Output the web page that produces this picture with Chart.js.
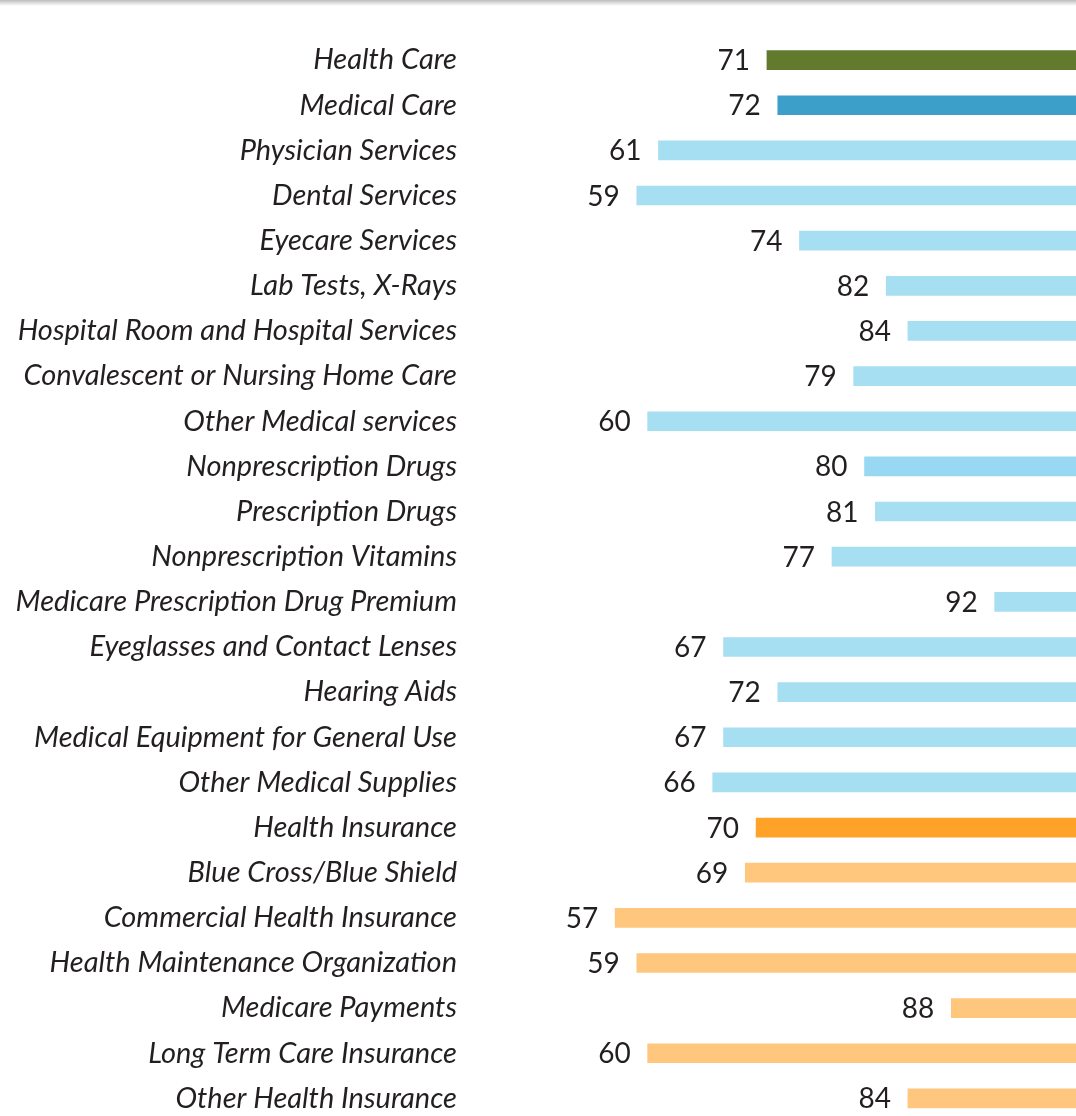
<!DOCTYPE html>
<html lang="en">
<head>
<meta charset="UTF-8">
<title>Health Care</title>
<script src="https://cdn.jsdelivr.net/npm/chart.js@4.4.3/dist/chart.umd.min.js"></script>
<style>
  html, body { margin: 0; padding: 0; background: #fff; overflow: hidden; }
  .topline { position: absolute; left: 0; top: 0; width: 1076px; height: 6px; background: linear-gradient(#bdbdbd, #fff); z-index: 2; }
  canvas { position: absolute; left: 0; top: 0; }
</style>
</head>
<body>
<div class="topline"></div>
<canvas id="chart" width="1076" height="1122"></canvas>
<script>
const categories = [
  'Health Care', 'Medical Care', 'Physician Services', 'Dental Services', 'Eyecare Services',
  'Lab Tests, X-Rays', 'Hospital Room and Hospital Services', 'Convalescent or Nursing Home Care',
  'Other Medical services', 'Nonprescription Drugs', 'Prescription Drugs', 'Nonprescription Vitamins',
  'Medicare Prescription Drug Premium', 'Eyeglasses and Contact Lenses', 'Hearing Aids',
  'Medical Equipment for General Use', 'Other Medical Supplies', 'Health Insurance',
  'Blue Cross/Blue Shield', 'Commercial Health Insurance', 'Health Maintenance Organization',
  'Medicare Payments', 'Long Term Care Insurance', 'Other Health Insurance'
];
const values = [71, 72, 61, 59, 74, 82, 84, 79, 60, 80, 81, 77, 92, 67, 72, 67, 66, 70, 69, 57, 59, 88, 60, 84];
const barColors = [
  '#617a2e', '#3b9fca', '#a6def2', '#a6def2', '#a6def2', '#a6def2', '#a6def2', '#a6def2',
  '#a6def2', '#98d8f2', '#a6def2', '#a6def2', '#a6def2', '#a6def2', '#a6def2', '#a6def2',
  '#a6def2', '#ffa228', '#ffc67e', '#ffc67e', '#ffc67e', '#ffc67e', '#ffc67e', '#ffc67e'
];
const barEnd = 100;

const valueLabels = {
  id: 'valueLabels',
  afterDatasetsDraw(chart) {
    const ctx = chart.ctx;
    const meta = chart.getDatasetMeta(0);
    ctx.save();
    ctx.font = '28px Lato';
    ctx.fillStyle = '#231f20';
    ctx.textAlign = 'right';
    ctx.textBaseline = 'middle';
    meta.data.forEach((bar, i) => {
      const left = Math.min(bar.x, bar.base);
      ctx.fillText(String(values[i]), left - 17, bar.y + 1);
    });
    ctx.restore();
  }
};

new Chart(document.getElementById('chart'), {
  type: 'bar',
  data: {
    labels: categories,
    datasets: [{
      data: values.map(v => [v, barEnd]),
      backgroundColor: barColors,
      borderWidth: 0,
      barThickness: 19
    }]
  },
  options: {
    indexAxis: 'y',
    responsive: false,
    animation: false,
    layout: { padding: { top: 37.5, bottom: 1, left: 0, right: 0 } },
    plugins: { legend: { display: false }, tooltip: { enabled: false } },
    scales: {
      x: { display: false, min: 45, max: 99.5 },
      y: {
        grid: { display: false, drawTicks: false },
        border: { display: false },
        ticks: { color: '#231f20', padding: 28, font: { family: 'Lato', style: 'italic', size: 29 } },
        afterFit(scale) {
          scale.width = 485;
          scale.paddingTop = 0;
          scale.paddingBottom = 0;
        }
      }
    }
  },
  plugins: [valueLabels]
});
</script>
</body>
</html>
